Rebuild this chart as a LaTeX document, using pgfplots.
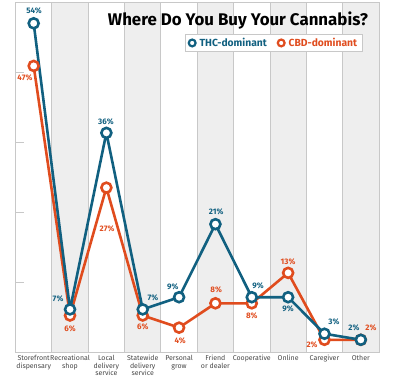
\documentclass[border=0pt]{standalone}
\usepackage{fontspec}
\setmainfont{Fira Sans}
\usepackage{pgfplots}
\pgfplotsset{compat=1.18}
\definecolor{thc}{RGB}{17,96,128}
\definecolor{cbd}{RGB}{224,76,30}
\definecolor{bgray}{RGB}{238,238,238}
\definecolor{divg}{RGB}{200,200,200}
\definecolor{labg}{RGB}{70,70,70}
\begin{document}
\begin{tikzpicture}
\begin{axis}[
  scale only axis, width=363.5pt, height=350pt,
  xmin=-0.5, xmax=9.5, ymin=0, ymax=57.5,
  axis on top, clip=false,
  axis line style={divg, line width=0.8pt},
  xtick={0,...,9},
  xticklabels={{Storefront\\dispensary},{Recreational\\shop},{Local\\delivery\\service},{Statewide\\delivery\\service},{Personal\\grow},{Friend\\or dealer},{Cooperative},{Online},{Caregiver},{Other}},
  xticklabel style={align=center, font=\fontsize{7}{7.4}\selectfont, text=labg},
  x tick style={draw=none},
  ytick={11.5,23,34.5,46}, yticklabels={},
  ytick pos=left, tick align=inside, major tick length=8pt,
  y tick style={divg, line width=0.8pt},
  legend style={at={(0.711,0.883)}, anchor=center, draw=divg, line width=0.6pt, font=\fontsize{10.3}{11}\selectfont\bfseries, inner xsep=3pt, inner ysep=1.5pt, /tikz/every even column/.append style={column sep=9pt}},
  legend columns=2,
  legend image code/.code={\draw[#1] plot coordinates {(0.12cm,0cm)};},
]
\fill[bgray] (axis cs:0.5,0) rectangle (axis cs:1.5,57.5);
\fill[bgray] (axis cs:2.5,0) rectangle (axis cs:3.5,57.5);
\fill[bgray] (axis cs:4.5,0) rectangle (axis cs:5.5,57.5);
\fill[bgray] (axis cs:6.5,0) rectangle (axis cs:7.5,57.5);
\fill[bgray] (axis cs:8.5,0) rectangle (axis cs:9.5,57.5);
\foreach \xv in {0.5,1.5,2.5,3.5,4.5,5.5,6.5,7.5,8.5}{
  \edef\tmp{\noexpand\draw[divg, line width=0.8pt] (axis cs:\xv,0) -- (axis cs:\xv,57.5);}\tmp
}
\addlegendimage{thc, mark=o, mark size=3.4pt, line width=2.2pt}
\addlegendentry{\hspace{2pt}\textcolor{thc}{THC-dominant}}
\addlegendimage{cbd, mark=o, mark size=3.4pt, line width=2.2pt}
\addlegendentry{\hspace{2pt}\textcolor{cbd}{CBD-dominant}}
\addplot[forget plot, cbd, line width=2.6pt, mark=*, mark size=5pt, mark options={fill=white, line width=2.6pt}]
 coordinates {(0,47) (1,6) (2,27) (3,6) (4,4) (5,8) (6,8) (7,13) (8,2) (9,2)};
\addplot[forget plot, thc, line width=2.6pt, mark=*, mark size=5pt, mark options={fill=white, line width=2.6pt}]
 coordinates {(0,54) (1,7) (2,36) (3,7) (4,9) (5,21) (6,9) (7,9) (8,3) (9,2)};
\begin{scope}[font=\fontsize{8}{9}\selectfont\bfseries]
\node[thc] at (axis cs:0.01,56.0) {54\%};
\node[cbd] at (axis cs:-0.24,45.0) {47\%};
\node[thc] at (axis cs:1.99,37.9) {36\%};
\node[cbd] at (axis cs:2.02,20.2) {27\%};
\node[thc] at (axis cs:0.67,8.7) {7\%};
\node[cbd] at (axis cs:1.0,3.8) {6\%};
\node[thc] at (axis cs:3.28,8.9) {7\%};
\node[cbd] at (axis cs:3.0,4.1) {6\%};
\node[thc] at (axis cs:3.83,10.7) {9\%};
\node[cbd] at (axis cs:4.03,1.8) {4\%};
\node[thc] at (axis cs:5.02,23.0) {21\%};
\node[cbd] at (axis cs:5.02,10.2) {8\%};
\node[thc] at (axis cs:6.17,10.8) {9\%};
\node[cbd] at (axis cs:6.0,5.9) {8\%};
\node[cbd] at (axis cs:7.0,14.8) {13\%};
\node[thc] at (axis cs:7.0,7.1) {9\%};
\node[thc] at (axis cs:8.26,4.9) {3\%};
\node[cbd] at (axis cs:7.66,1.15) {2\%};
\node[thc] at (axis cs:8.81,3.9) {2\%};
\node[cbd] at (axis cs:9.28,3.9) {2\%};
\end{scope}
\end{axis}
\node at (222.5pt,331pt) {\resizebox{260pt}{!}{\fontsize{16}{18}\selectfont\bfseries Where Do You Buy Your Cannabis?}};
\pgfresetboundingbox
\path (-15.5pt,-29pt) rectangle (384.5pt,352pt);
\end{tikzpicture}
\end{document}
